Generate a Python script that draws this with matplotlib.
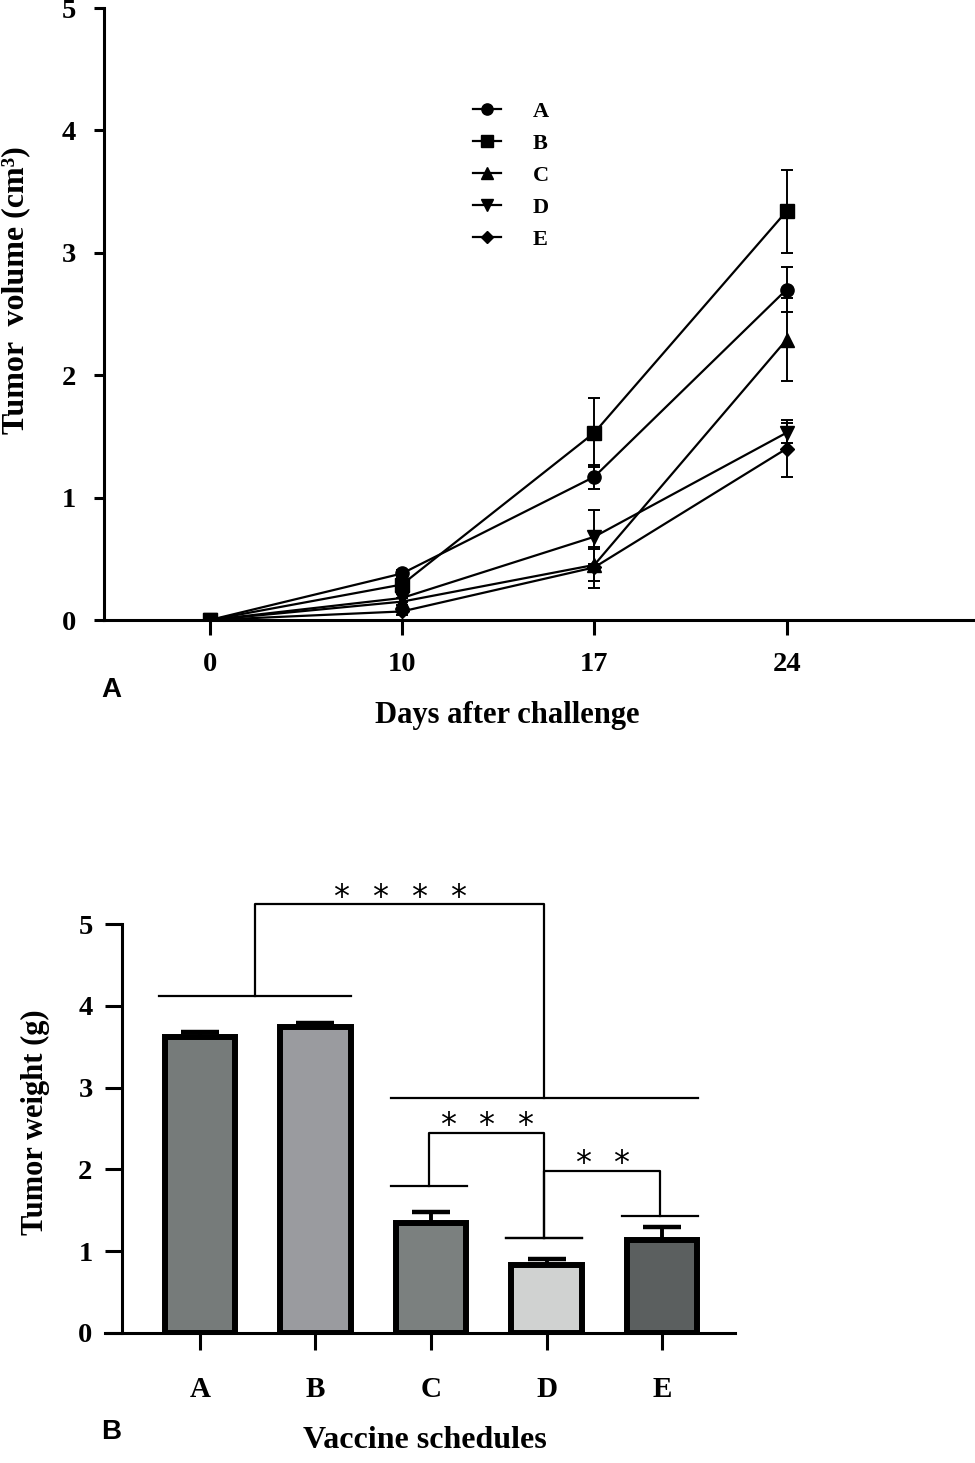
import matplotlib
matplotlib.use("Agg")
import matplotlib.pyplot as plt
import numpy as np

plt.rcParams.update({
    "font.family": ["Liberation Serif", "DejaVu Serif"],
    "font.weight": "bold",
    "axes.labelweight": "bold",
    "axes.linewidth": 2.2,
})

# ---- panel A: tumor volume over time ----
days = ["0", "10", "17", "24"]
groups = ["A", "B", "C", "D", "E"]
vol_A = [0.0, 0.38, 1.17, 2.70]
vol_B = [0.0, 0.29, 1.53, 3.34]
vol_C = [0.0, 0.15, 0.45, 2.29]
vol_D = [0.0, 0.18, 0.68, 1.53]
vol_E = [0.0, 0.07, 0.43, 1.40]
err_A = [0.0, 0.03, 0.10, 0.18]
err_B = [0.0, 0.03, 0.28, 0.34]
err_C = [0.0, 0.03, 0.13, 0.34]
err_D = [0.0, 0.03, 0.22, 0.08]
err_E = [0.0, 0.03, 0.17, 0.23]
markers = ["o", "s", "^", "v", "D"]

# ---- panel B: tumor weight ----
schedules = ["A", "B", "C", "D", "E"]
weight = [3.62, 3.74, 1.34, 0.83, 1.14]
weight_err = [0.06, 0.05, 0.14, 0.07, 0.15]
bar_colors = ["#767b7a", "#9a9b9f", "#7b807f", "#d0d2d1", "#5b5f5f"]

# significance groups: (first bar, last bar, line height)
sig_groups = {
    "AB": (0, 1, 4.12),
    "CDE": (2, 4, 2.87),
    "C": (2, 2, 1.80),
    "D": (3, 3, 1.16),
    "E": (4, 4, 1.43),
}
sig_tests = [("AB", "CDE", 5.245, 4), ("C", "D", 2.45, 3), ("D", "E", 1.985, 2)]

fig = plt.figure(figsize=(9.75, 14.63), dpi=100)

# ================= panel A =================
ax1 = fig.add_axes([104 / 975, 1 - 620 / 1463, 871 / 975, 612 / 1463])
x = np.arange(len(days))
series = [vol_A, vol_B, vol_C, vol_D, vol_E]
errs = [err_A, err_B, err_C, err_D, err_E]
for name, vals, err, m in zip(groups, series, errs, markers):
    ms = 7 if m == "D" else 9.5
    ax1.errorbar(x, vals, yerr=err, fmt="none", ecolor="black", elinewidth=1.4,
                 capsize=4, capthick=1.4)
    ax1.plot(x, vals, color="black", lw=1.6, marker=m, ms=ms, label=name)

ax1.set_xlim(-0.55, 3.98)
ax1.set_ylim(0, 5)
ax1.set_xticks(x, labels=days)
ax1.set_yticks(range(6))
ax1.spines["top"].set_visible(False)
ax1.spines["right"].set_visible(False)
ax1.tick_params(axis="x", length=11, width=2.2, pad=12, labelsize=20.5)
ax1.tick_params(axis="y", length=7, width=2.2, pad=13, labelsize=20.5)
ax1.set_xlabel("Days after challenge", fontsize=22, va="center")
ax1.xaxis.set_label_coords((507 - 104) / 871, (620 - 716) / 612)
ax1.set_ylabel("Tumor  volume (cm³)", fontsize=23, va="center")
ax1.yaxis.set_label_coords((16 - 104) / 871, (620 - 290) / 612)

leg = ax1.legend(loc="upper left", bbox_to_anchor=(473 / 975, 1 - 101 / 1463),
                 bbox_transform=fig.transFigure, frameon=False, fontsize=16,
                 handlelength=1.25, handletextpad=1.45, labelspacing=0.52,
                 borderpad=0, borderaxespad=0, markerscale=0.85)

fig.text(111 / 975, 1 - 690 / 1463, "A", fontsize=20, ha="center", va="center",
         family=["Liberation Sans", "DejaVu Sans"], weight="bold")

# ================= panel B =================
ax2 = fig.add_axes([105 / 975, 1 - 1333 / 1463, 630 / 975, 409 / 1463])
xb = np.arange(len(schedules))
ax2.bar(xb, weight, width=0.61, color=bar_colors, edgecolor="black", linewidth=4.3,
        zorder=2)
ax2.errorbar(xb, weight, yerr=[np.zeros(len(weight)), weight_err], fmt="none",
             ecolor="black", elinewidth=2.8, capsize=13.5, capthick=3.2, zorder=1)

ax2.set_xlim(-0.82, 4.63)
ax2.set_ylim(0, 5)
ax2.spines["left"].set_position(("data", -0.675))
ax2.spines["top"].set_visible(False)
ax2.spines["right"].set_visible(False)
ax2.set_xticks(xb, labels=schedules)
ax2.set_yticks(range(6))
ax2.tick_params(axis="x", length=12, width=2.2, pad=19, labelsize=21)
ax2.tick_params(axis="y", length=12, width=2.2, pad=9, labelsize=20.5)
ax2.set_xlabel("Vaccine schedules", fontsize=23, va="center")
ax2.xaxis.set_label_coords((425 - 105) / 630, (1333 - 1440) / 409)
ax2.set_ylabel("Tumor weight (g)", fontsize=22, va="center")
ax2.yaxis.set_label_coords((35 - 105) / 630, (1333 - 1122) / 409)

# significance brackets
def group_line(key):
    i0, i1, h = sig_groups[key]
    x0, x1 = xb[i0] - 0.35, xb[i1] + 0.31
    ax2.plot([x0, x1], [h, h], color="black", lw=1.6, clip_on=False)
    return (x0 + x1) / 2, h

for g1, g2, top, nstar in sig_tests:
    xa, ha_ = group_line(g1)
    xc, hc = group_line(g2)
    ax2.plot([xa, xa, xc, xc], [ha_, top, top, hc], color="black", lw=1.6,
             clip_on=False)
    mid = (xa + xc) / 2
    for k in range(nstar):
        sx = mid + (k - (nstar - 1) / 2) * 0.336
        ax2.text(sx, top - 0.02, "*", fontsize=23, ha="center", va="baseline",
                 family=["DejaVu Sans"], weight="normal")

fig.text(111 / 975, 1 - 1432 / 1463, "B", fontsize=20, ha="center", va="center",
         family=["Liberation Sans", "DejaVu Sans"], weight="bold")

fig.savefig("out.png", dpi=100)
